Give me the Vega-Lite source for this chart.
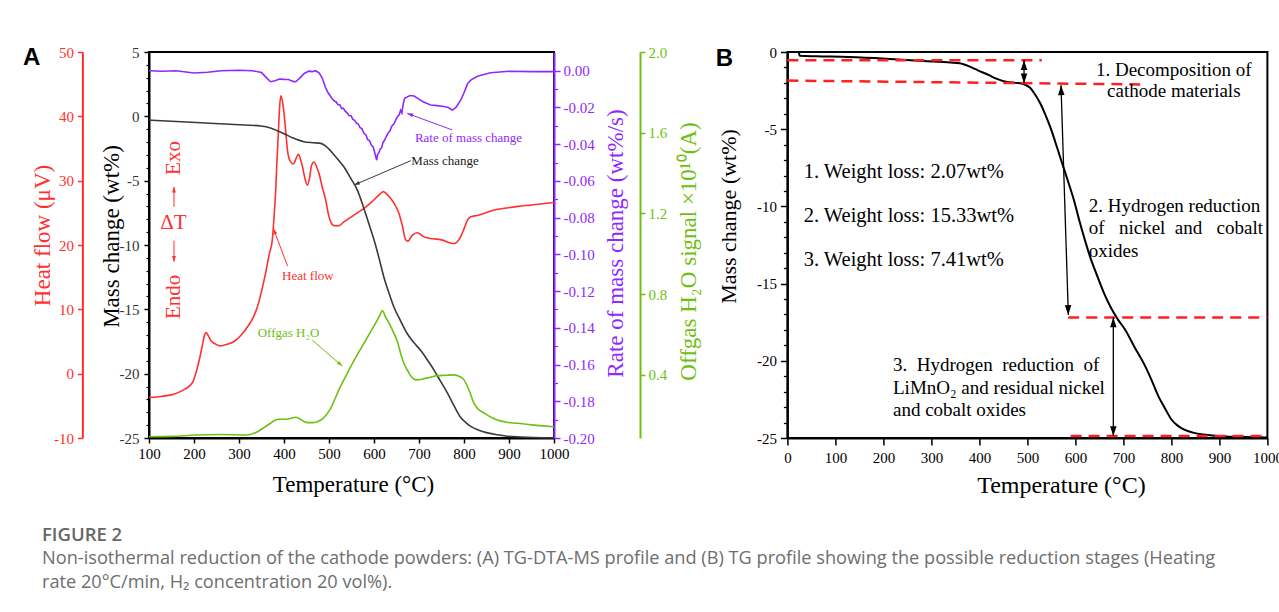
{
  "$schema": "https://vega.github.io/schema/vega-lite/v6.json",
  "background": "#ffffff",
  "padding": {"left": 22, "top": 44, "right": 0, "bottom": 0},
  "bounds": "flush",
  "spacing": 233.4,
  "config": {
    "locale": {"number": {"decimal": ".", "thousands": ",", "grouping": [3], "currency": ["$", ""], "minus": "-"}},
    "view": {"stroke": null},
    "axis": {"grid": false, "labelFont": "Liberation Serif", "titleFont": "Liberation Serif", "labelFontSize": 15, "titleFontSize": 23, "titleFontWeight": "normal", "labelFlush": false, "labelOverlap": false, "domainWidth": 2, "tickWidth": 1.5},
    "text": {"font": "Liberation Serif"}
  },
  "title": {
    "text": "FIGURE 2",
    "subtitle": ["Non-isothermal reduction of the cathode powders: (A) TG-DTA-MS profile and (B) TG profile showing the possible reduction stages (Heating", "rate 20°C/min, H₂ concentration 20 vol%)."],
    "orient": "bottom", "anchor": "start", "frame": "bounds",
    "font": "Open Sans", "fontSize": 18.5, "fontWeight": 600, "color": "#666666",
    "subtitleFont": "Open Sans", "subtitleFontSize": 18.2, "subtitleColor": "#6e6e6e", "subtitleLineHeight": 24, "subtitlePadding": 5, "subtitleFontWeight": "normal",
    "offset": 28, "dx": 20
  },
  "hconcat": [
    {
      "width": 405, "height": 386,
      "view": {"stroke": "#000000", "strokeWidth": 2},
      "title": {"text": "A", "anchor": "start", "frame": "group", "orient": "top", "font": "Liberation Sans", "fontSize": 24, "fontWeight": "bold", "color": "#000000", "baseline": "alphabetic", "dx": -126, "dy": 44, "offset": 0},
      "resolve": {"scale": {"y": "independent"}},
      "layer": [
        {
          "data": {"values": [{"T":100,"h":-3.7},{"T":130,"h":-3.5},{"T":155,"h":-3.2},{"T":175,"h":-2.6},{"T":190,"h":-1.9},{"T":198,"h":-1.2},{"T":205,"h":0.3},{"T":212,"h":2.2},{"T":218,"h":4.2},{"T":223,"h":5.9},{"T":227,"h":6.4},{"T":231,"h":6.0},{"T":237,"h":5.2},{"T":248,"h":4.6},{"T":259,"h":4.3},{"T":275,"h":4.6},{"T":289,"h":5.0},{"T":305,"h":6.0},{"T":322,"h":7.6},{"T":332,"h":8.8},{"T":341,"h":10.4},{"T":350,"h":12.8},{"T":359,"h":15.6},{"T":367,"h":18.5},{"T":374,"h":20.8},{"T":378,"h":24.5},{"T":381.6,"h":28.5},{"T":384,"h":32.5},{"T":386.7,"h":36.3},{"T":389.5,"h":40.5},{"T":392.7,"h":43.2},{"T":396,"h":42.5},{"T":400,"h":40.5},{"T":404,"h":37.5},{"T":407.6,"h":34.8},{"T":414,"h":33.0},{"T":421,"h":32.6},{"T":427,"h":33.5},{"T":432,"h":34.1},{"T":436,"h":33.5},{"T":441,"h":32.2},{"T":446,"h":30.5},{"T":452,"h":29.3},{"T":457,"h":30.5},{"T":461,"h":32.3},{"T":466.7,"h":32.9},{"T":472,"h":32.2},{"T":477.8,"h":31.1},{"T":485,"h":29.0},{"T":492.7,"h":27.0},{"T":498,"h":25.0},{"T":503.8,"h":23.6},{"T":512,"h":23.0},{"T":522,"h":23.0},{"T":533,"h":23.6},{"T":548,"h":24.3},{"T":563,"h":25.0},{"T":578,"h":25.7},{"T":595,"h":26.7},{"T":610,"h":27.7},{"T":620.9,"h":28.3},{"T":630,"h":27.8},{"T":644.4,"h":26.5},{"T":655.6,"h":24.9},{"T":663,"h":23.0},{"T":670.4,"h":20.8},{"T":675,"h":20.6},{"T":685,"h":21.5},{"T":696.4,"h":21.9},{"T":710,"h":21.3},{"T":726,"h":21.0},{"T":750,"h":20.8},{"T":770,"h":20.3},{"T":777.8,"h":20.2},{"T":785,"h":20.5},{"T":792.7,"h":21.3},{"T":800,"h":22.5},{"T":808,"h":23.9},{"T":815,"h":24.4},{"T":830,"h":24.6},{"T":844.4,"h":24.9},{"T":865,"h":25.4},{"T":889,"h":25.7},{"T":920,"h":26.0},{"T":948,"h":26.2},{"T":975,"h":26.4},{"T":1000,"h":26.6}]},
          "mark": {"type": "line", "color": "#ff3030", "strokeWidth": 1.6, "interpolate": "monotone"},
          "encoding": {
            "x": {"field": "T", "type": "quantitative", "scale": {"domain": [100, 1000], "nice": false, "zero": false},
                  "axis": {"orient": "bottom", "values": [100,200,300,400,500,600,700,800,900,1000], "format": "d", "title": "Temperature (°C)", "titleX": 204, "titleY": 46, "titleAngle": 0, "titleAlign": "center", "titleBaseline": "middle", "titleColor": "#000000", "labelColor": "#000000", "domainColor": "#000000", "tickColor": "#000000", "tickSize": 5, "labelPadding": 3}},
            "y": {"field": "h", "type": "quantitative", "scale": {"domain": [-10, 50], "nice": false, "zero": false},
                  "axis": {"orient": "left", "offset": 66.6, "values": [-10,0,10,20,30,40,50], "title": "Heat flow (μV)", "titleX": -40, "titleY": 183, "titleAngle": 270, "titleAlign": "center", "titleBaseline": "middle", "titleColor": "#ff3030", "labelColor": "#ff3030", "domainColor": "#ff3030", "tickColor": "#ff3030", "tickSize": 5, "labelPadding": 4}}
          }
        },
        {
          "data": {"values": [{"T": 500, "m": 0}]},
          "mark": {"type": "point", "opacity": 0},
          "encoding": {
            "x": {"field": "T", "type": "quantitative", "scale": {"domain": [100, 1000], "nice": false, "zero": false}},
            "y": {"field": "m", "type": "quantitative", "scale": {"domain": [-25, 5], "nice": false, "zero": false},
                  "axis": {"orient": "left", "values": [-24,-23,-22,-21,-19,-18,-17,-16,-14,-13,-12,-11,-9,-8,-7,-6,-4,-3,-2,-1,1,2,3,4], "labels": false, "domain": false, "title": null, "tickSize": 3, "tickColor": "#000000", "tickWidth": 1.2}}
          }
        },
        {
          "data": {"values": [{"T":100,"m":-0.29},{"T":150,"m":-0.38},{"T":215,"m":-0.5},{"T":280,"m":-0.62},{"T":348,"m":-0.75},{"T":370,"m":-0.9},{"T":385,"m":-1.12},{"T":400,"m":-1.35},{"T":422,"m":-1.71},{"T":444,"m":-1.97},{"T":465,"m":-2.05},{"T":481.6,"m":-2.1},{"T":492,"m":-2.3},{"T":500,"m":-2.55},{"T":510,"m":-2.95},{"T":520,"m":-3.35},{"T":533,"m":-3.92},{"T":548,"m":-4.8},{"T":563,"m":-5.73},{"T":578,"m":-7.2},{"T":592.7,"m":-8.8},{"T":600,"m":-9.6},{"T":611,"m":-11.0},{"T":622,"m":-12.5},{"T":633,"m":-13.7},{"T":644,"m":-14.8},{"T":659,"m":-15.9},{"T":674,"m":-16.9},{"T":689,"m":-17.6},{"T":704,"m":-18.2},{"T":718,"m":-18.9},{"T":733,"m":-19.7},{"T":748,"m":-20.6},{"T":763,"m":-21.5},{"T":778,"m":-22.5},{"T":792.7,"m":-23.4},{"T":804,"m":-23.8},{"T":815,"m":-24.1},{"T":833,"m":-24.4},{"T":852,"m":-24.6},{"T":874,"m":-24.75},{"T":896,"m":-24.86},{"T":925,"m":-24.92},{"T":955,"m":-24.96},{"T":1000,"m":-24.98}]},
          "mark": {"type": "line", "color": "#3a3a3a", "strokeWidth": 1.6, "interpolate": "monotone"},
          "encoding": {
            "x": {"field": "T", "type": "quantitative", "scale": {"domain": [100, 1000], "nice": false, "zero": false}},
            "y": {"field": "m", "type": "quantitative", "scale": {"domain": [-25, 5], "nice": false, "zero": false},
                  "axis": {"orient": "left", "offset": 0, "values": [-25,-20,-15,-10,-5,0,5], "title": "Mass change (wt%)", "titleX": -38, "titleY": 184, "titleAngle": 270, "titleAlign": "center", "titleBaseline": "middle", "titleColor": "#000000", "labelColor": "#333333", "domainColor": "#000000", "tickColor": "#000000", "tickSize": 5, "labelPadding": 5}}
          }
        },
        {
          "data": {"values": [{"T":681.6,"m":-3.45,"T2":555.6,"m2":-5.34}]},
          "mark": {"type": "rule", "color": "#3a3a3a", "strokeWidth": 1},
          "encoding": {"x": {"field": "T", "type": "quantitative", "scale": {"domain": [100, 1000], "nice": false, "zero": false}}, "y": {"field": "m", "type": "quantitative", "scale": {"domain": [-25, 5], "nice": false, "zero": false}, "axis": null}, "x2": {"field": "T2"}, "y2": {"field": "m2"}}
        },
        {
          "data": {"values": [{"T":774,"m":-1.06,"T2":674,"m2":0.23}]},
          "mark": {"type": "rule", "color": "#8f28ff", "strokeWidth": 1},
          "encoding": {"x": {"field": "T", "type": "quantitative", "scale": {"domain": [100, 1000], "nice": false, "zero": false}}, "y": {"field": "m", "type": "quantitative", "scale": {"domain": [-25, 5], "nice": false, "zero": false}, "axis": null}, "x2": {"field": "T2"}, "y2": {"field": "m2"}}
        },
        {
          "data": {"values": [{"T":408,"m":-11.64,"T2":376.4,"m2":-8.72},{"T":155.5,"m":-7.03,"T2":155.5,"m2":-5.47},{"T":155.5,"m":-9.66,"T2":155.5,"m2":-11.31}]},
          "mark": {"type": "rule", "color": "#ff3030", "strokeWidth": 1},
          "encoding": {"x": {"field": "T", "type": "quantitative", "scale": {"domain": [100, 1000], "nice": false, "zero": false}}, "y": {"field": "m", "type": "quantitative", "scale": {"domain": [-25, 5], "nice": false, "zero": false}, "axis": null}, "x2": {"field": "T2"}, "y2": {"field": "m2"}}
        },
        {
          "data": {"values": [{"T":463,"m":-17.4,"T2":529.8,"m2":-19.42}]},
          "mark": {"type": "rule", "color": "#6fbf12", "strokeWidth": 1},
          "encoding": {"x": {"field": "T", "type": "quantitative", "scale": {"domain": [100, 1000], "nice": false, "zero": false}}, "y": {"field": "m", "type": "quantitative", "scale": {"domain": [-25, 5], "nice": false, "zero": false}, "axis": null}, "x2": {"field": "T2"}, "y2": {"field": "m2"}}
        },
        {
          "data": {"values": [{"T":555.6,"m":-5.34}]},
          "mark": {"type": "point", "shape": "M0,0L0.5,1.5L-0.5,1.5Z", "filled": true, "opacity": 1, "size": 60, "angle": 246.8, "color": "#3a3a3a", "strokeWidth": 0},
          "encoding": {"x": {"field": "T", "type": "quantitative", "scale": {"domain": [100, 1000], "nice": false, "zero": false}}, "y": {"field": "m", "type": "quantitative", "scale": {"domain": [-25, 5], "nice": false, "zero": false}, "axis": null}}
        },
        {
          "data": {"values": [{"T":674,"m":0.23}]},
          "mark": {"type": "point", "shape": "M0,0L0.5,1.5L-0.5,1.5Z", "filled": true, "opacity": 1, "size": 60, "angle": 290.4, "color": "#8f28ff", "strokeWidth": 0},
          "encoding": {"x": {"field": "T", "type": "quantitative", "scale": {"domain": [100, 1000], "nice": false, "zero": false}}, "y": {"field": "m", "type": "quantitative", "scale": {"domain": [-25, 5], "nice": false, "zero": false}, "axis": null}}
        },
        {
          "data": {"values": [{"T":376.4,"m":-8.72}]},
          "mark": {"type": "point", "shape": "M0,0L0.5,1.5L-0.5,1.5Z", "filled": true, "opacity": 1, "size": 60, "angle": 339.5, "color": "#ff3030", "strokeWidth": 0},
          "encoding": {"x": {"field": "T", "type": "quantitative", "scale": {"domain": [100, 1000], "nice": false, "zero": false}}, "y": {"field": "m", "type": "quantitative", "scale": {"domain": [-25, 5], "nice": false, "zero": false}, "axis": null}}
        },
        {
          "data": {"values": [{"T":155.5,"m":-5.47}]},
          "mark": {"type": "point", "shape": "M0,0L0.5,1.5L-0.5,1.5Z", "filled": true, "opacity": 1, "size": 60, "angle": 0, "color": "#ff3030", "strokeWidth": 0},
          "encoding": {"x": {"field": "T", "type": "quantitative", "scale": {"domain": [100, 1000], "nice": false, "zero": false}}, "y": {"field": "m", "type": "quantitative", "scale": {"domain": [-25, 5], "nice": false, "zero": false}, "axis": null}}
        },
        {
          "data": {"values": [{"T":155.5,"m":-11.31}]},
          "mark": {"type": "point", "shape": "M0,0L0.5,1.5L-0.5,1.5Z", "filled": true, "opacity": 1, "size": 60, "angle": 180, "color": "#ff3030", "strokeWidth": 0},
          "encoding": {"x": {"field": "T", "type": "quantitative", "scale": {"domain": [100, 1000], "nice": false, "zero": false}}, "y": {"field": "m", "type": "quantitative", "scale": {"domain": [-25, 5], "nice": false, "zero": false}, "axis": null}}
        },
        {
          "data": {"values": [{"T":529.8,"m":-19.42}]},
          "mark": {"type": "point", "shape": "M0,0L0.5,1.5L-0.5,1.5Z", "filled": true, "opacity": 1, "size": 60, "angle": 130.9, "color": "#6fbf12", "strokeWidth": 0},
          "encoding": {"x": {"field": "T", "type": "quantitative", "scale": {"domain": [100, 1000], "nice": false, "zero": false}}, "y": {"field": "m", "type": "quantitative", "scale": {"domain": [-25, 5], "nice": false, "zero": false}, "axis": null}}
        },
        {
          "data": {"values": [{"T":810,"m":-1.71,"label":"Rate of mass change"}]},
          "mark": {"type": "text", "color": "#8f28ff", "fontSize": 13, "align": "center", "baseline": "middle", "font": "Liberation Serif"},
          "encoding": {"x": {"field": "T", "type": "quantitative", "scale": {"domain": [100, 1000], "nice": false, "zero": false}}, "y": {"field": "m", "type": "quantitative", "scale": {"domain": [-25, 5], "nice": false, "zero": false}, "axis": null}, "text": {"field": "label"}}
        },
        {
          "data": {"values": [{"T":683,"m":-3.45,"label":"Mass change"}]},
          "mark": {"type": "text", "color": "#1a1a1a", "fontSize": 13, "align": "left", "baseline": "middle", "font": "Liberation Serif"},
          "encoding": {"x": {"field": "T", "type": "quantitative", "scale": {"domain": [100, 1000], "nice": false, "zero": false}}, "y": {"field": "m", "type": "quantitative", "scale": {"domain": [-25, 5], "nice": false, "zero": false}, "axis": null}, "text": {"field": "label"}}
        },
        {
          "data": {"values": [{"T":453,"m":-12.4,"label":"Heat flow"}]},
          "mark": {"type": "text", "color": "#ff3030", "fontSize": 13, "align": "center", "baseline": "middle", "font": "Liberation Serif"},
          "encoding": {"x": {"field": "T", "type": "quantitative", "scale": {"domain": [100, 1000], "nice": false, "zero": false}}, "y": {"field": "m", "type": "quantitative", "scale": {"domain": [-25, 5], "nice": false, "zero": false}, "axis": null}, "text": {"field": "label"}}
        },
        {
          "data": {"values": [{"T":410,"m":-16.87,"label":"Offgas H₂O"}]},
          "mark": {"type": "text", "color": "#6fbf12", "fontSize": 13, "align": "center", "baseline": "middle", "font": "Liberation Serif"},
          "encoding": {"x": {"field": "T", "type": "quantitative", "scale": {"domain": [100, 1000], "nice": false, "zero": false}}, "y": {"field": "m", "type": "quantitative", "scale": {"domain": [-25, 5], "nice": false, "zero": false}, "axis": null}, "text": {"field": "label"}}
        },
        {
          "data": {"values": [{"T":155.5,"m":-3.24,"label":"Exo"},{"T":156.5,"m":-14.03,"label":"Endo"}]},
          "mark": {"type": "text", "color": "#ff3030", "fontSize": 21, "align": "center", "baseline": "middle", "angle": 270, "font": "Liberation Serif"},
          "encoding": {"x": {"field": "T", "type": "quantitative", "scale": {"domain": [100, 1000], "nice": false, "zero": false}}, "y": {"field": "m", "type": "quantitative", "scale": {"domain": [-25, 5], "nice": false, "zero": false}, "axis": null}, "text": {"field": "label"}}
        },
        {
          "data": {"values": [{"T":154.2,"m":-8.31,"label":"ΔT"}]},
          "mark": {"type": "text", "color": "#ff3030", "fontSize": 21, "align": "center", "baseline": "middle", "font": "Liberation Serif"},
          "encoding": {"x": {"field": "T", "type": "quantitative", "scale": {"domain": [100, 1000], "nice": false, "zero": false}}, "y": {"field": "m", "type": "quantitative", "scale": {"domain": [-25, 5], "nice": false, "zero": false}, "axis": null}, "text": {"field": "label"}}
        },
        {
          "data": {"values": [{"T": 500, "r": 0}]},
          "mark": {"type": "point", "opacity": 0},
          "encoding": {
            "x": {"field": "T", "type": "quantitative", "scale": {"domain": [100, 1000], "nice": false, "zero": false}},
            "y": {"field": "r", "type": "quantitative", "scale": {"domain": [-0.2, 0.0102], "nice": false, "zero": false},
                  "axis": {"orient": "right", "values": [-0.19,-0.17,-0.15,-0.13,-0.11,-0.09,-0.07,-0.05,-0.03,-0.01], "labels": false, "domain": false, "title": null, "tickSize": 3.5, "tickColor": "#8f28ff", "tickWidth": 1.2}}
          }
        },
        {
          "data": {"values": [{"T":100,"r":0.0},{"T":130,"r":-0.0003},{"T":160,"r":0.0},{"T":200,"r":-0.0012},{"T":230,"r":-0.0008},{"T":260,"r":0.0},{"T":300,"r":0.0003},{"T":330,"r":0.0},{"T":350,"r":-0.001},{"T":362,"r":-0.004},{"T":370,"r":-0.006},{"T":380,"r":-0.0055},{"T":390,"r":-0.0045},{"T":400,"r":-0.0047},{"T":410,"r":-0.0048},{"T":420,"r":-0.0058},{"T":426,"r":-0.006},{"T":435,"r":-0.004},{"T":445,"r":-0.0015},{"T":455,"r":-0.0002},{"T":463,"r":-0.0005},{"T":470,"r":0.0},{"T":478,"r":-0.0012},{"T":485,"r":-0.004},{"T":492,"r":-0.009},{"T":498,"r":-0.012},{"T":504,"r":-0.0142},{"T":508,"r":-0.0155},{"T":512,"r":-0.0165},{"T":516,"r":-0.017},{"T":520,"r":-0.0185},{"T":524,"r":-0.0185},{"T":528,"r":-0.0205},{"T":532,"r":-0.0205},{"T":536,"r":-0.022},{"T":541,"r":-0.0232},{"T":545,"r":-0.0245},{"T":549,"r":-0.0245},{"T":553,"r":-0.0265},{"T":557,"r":-0.027},{"T":561,"r":-0.0285},{"T":565,"r":-0.029},{"T":569,"r":-0.031},{"T":573,"r":-0.0315},{"T":578,"r":-0.0342},{"T":582,"r":-0.035},{"T":586,"r":-0.0375},{"T":590,"r":-0.038},{"T":594,"r":-0.0405},{"T":598,"r":-0.0415},{"T":601,"r":-0.044},{"T":604,"r":-0.047},{"T":606,"r":-0.0487},{"T":608,"r":-0.0455},{"T":611,"r":-0.0445},{"T":614,"r":-0.0425},{"T":617,"r":-0.042},{"T":620,"r":-0.039},{"T":623,"r":-0.038},{"T":627,"r":-0.036},{"T":631,"r":-0.034},{"T":635,"r":-0.033},{"T":640,"r":-0.030},{"T":644,"r":-0.029},{"T":648,"r":-0.027},{"T":652,"r":-0.0251},{"T":656,"r":-0.024},{"T":659,"r":-0.0215},{"T":662,"r":-0.023},{"T":665,"r":-0.018},{"T":668,"r":-0.015},{"T":672,"r":-0.0145},{"T":680,"r":-0.0135},{"T":689,"r":-0.0138},{"T":700,"r":-0.0155},{"T":710,"r":-0.017},{"T":726,"r":-0.0187},{"T":740,"r":-0.019},{"T":755,"r":-0.0195},{"T":765,"r":-0.02},{"T":774,"r":-0.0214},{"T":782,"r":-0.02},{"T":792.7,"r":-0.016},{"T":800,"r":-0.012},{"T":808,"r":-0.007},{"T":815,"r":-0.0051},{"T":830,"r":-0.003},{"T":859,"r":-0.0011},{"T":900,"r":-0.0003},{"T":950,"r":-0.0005},{"T":1000,"r":-0.0005}]},
          "mark": {"type": "line", "color": "#8f28ff", "strokeWidth": 1.6},
          "encoding": {
            "x": {"field": "T", "type": "quantitative", "scale": {"domain": [100, 1000], "nice": false, "zero": false}},
            "y": {"field": "r", "type": "quantitative", "scale": {"domain": [-0.2, 0.0102], "nice": false, "zero": false},
                  "axis": {"orient": "right", "offset": 0, "values": [-0.2,-0.18,-0.16,-0.14,-0.12,-0.1,-0.08,-0.06,-0.04,-0.02,0], "format": ".2f", "title": "Rate of mass change (wt%/s)", "titleX": 61, "titleY": 191, "titleAngle": 270, "titleAlign": "center", "titleBaseline": "middle", "titleColor": "#8f28ff", "labelColor": "#8f28ff", "domainColor": "#8f28ff", "tickColor": "#8f28ff", "tickSize": 6, "labelPadding": 3}}
          }
        },
        {
          "data": {"values": [{"T":100,"g":0.093},{"T":150,"g":0.095},{"T":207,"g":0.102},{"T":260,"g":0.104},{"T":319,"g":0.102},{"T":341,"g":0.118},{"T":355,"g":0.138},{"T":370,"g":0.16},{"T":380,"g":0.175},{"T":389,"g":0.18},{"T":405,"g":0.18},{"T":418,"g":0.186},{"T":426,"g":0.19},{"T":435,"g":0.182},{"T":445,"g":0.168},{"T":452,"g":0.163},{"T":463,"g":0.163},{"T":474,"g":0.168},{"T":485,"g":0.18},{"T":495,"g":0.205},{"T":503.8,"g":0.234},{"T":515,"g":0.29},{"T":525,"g":0.34},{"T":533,"g":0.375},{"T":548,"g":0.44},{"T":563,"g":0.5},{"T":578,"g":0.557},{"T":593,"g":0.615},{"T":607.5,"g":0.673},{"T":614,"g":0.7},{"T":618.5,"g":0.719},{"T":625,"g":0.69},{"T":635,"g":0.65},{"T":644,"g":0.607},{"T":652,"g":0.565},{"T":660,"g":0.5},{"T":667,"g":0.455},{"T":674,"g":0.424},{"T":683,"g":0.39},{"T":692.7,"g":0.375},{"T":710,"g":0.38},{"T":725,"g":0.388},{"T":740.7,"g":0.396},{"T":760,"g":0.398},{"T":778,"g":0.4},{"T":790,"g":0.392},{"T":800,"g":0.375},{"T":812,"g":0.32},{"T":822,"g":0.26},{"T":829.7,"g":0.234},{"T":845,"g":0.21},{"T":860,"g":0.19},{"T":874,"g":0.176},{"T":895,"g":0.165},{"T":918.7,"g":0.16},{"T":950,"g":0.152},{"T":975,"g":0.147},{"T":1000,"g":0.143}]},
          "mark": {"type": "line", "color": "#6fbf12", "strokeWidth": 1.6, "interpolate": "monotone"},
          "encoding": {
            "x": {"field": "T", "type": "quantitative", "scale": {"domain": [100, 1000], "nice": false, "zero": false}},
            "y": {"field": "g", "type": "quantitative", "scale": {"domain": [0.087, 2.0], "nice": false, "zero": false},
                  "axis": {"orient": "right", "offset": 86, "values": [0.4,0.8,1.2,1.6,2.0], "format": ".1f", "title": "Offgas H₂O signal ×10¹⁰(A)", "titleX": 48, "titleY": 199, "titleAngle": 270, "titleAlign": "center", "titleBaseline": "middle", "titleColor": "#6fbf12", "labelColor": "#6fbf12", "domainColor": "#6fbf12", "tickColor": "#6fbf12", "tickSize": 5, "labelPadding": 3}}
          }
        }
      ]
    },
    {
      "width": 480, "height": 386,
      "view": {"stroke": "#000000", "strokeWidth": 2},
      "title": {"text": "B", "anchor": "start", "frame": "group", "orient": "top", "font": "Liberation Sans", "fontSize": 24, "fontWeight": "bold", "color": "#000000", "baseline": "alphabetic", "dx": -71.7, "dy": 45, "offset": 0},
      "resolve": {"scale": {"y": "independent"}},
      "layer": [
        {
          "data": {"values": [{"T":24,"m":-0.05},{"T":26,"m":-0.25},{"T":60,"m":-0.28},{"T":128,"m":-0.32},{"T":205,"m":-0.43},{"T":282,"m":-0.58},{"T":340,"m":-0.68},{"T":359,"m":-0.73},{"T":380,"m":-0.95},{"T":397,"m":-1.19},{"T":420,"m":-1.5},{"T":435,"m":-1.72},{"T":458,"m":-1.94},{"T":475,"m":-2.0},{"T":489,"m":-2.05},{"T":497,"m":-2.15},{"T":505,"m":-2.3},{"T":515,"m":-2.7},{"T":527,"m":-3.34},{"T":538,"m":-4.1},{"T":550,"m":-5.06},{"T":563,"m":-6.3},{"T":577,"m":-7.65},{"T":587,"m":-8.6},{"T":597,"m":-9.6},{"T":608,"m":-10.9},{"T":620,"m":-12.2},{"T":631,"m":-13.3},{"T":643,"m":-14.3},{"T":658,"m":-15.5},{"T":673,"m":-16.5},{"T":688,"m":-17.3},{"T":704,"m":-18.0},{"T":723,"m":-19.1},{"T":743,"m":-20.2},{"T":758,"m":-21.2},{"T":773,"m":-22.3},{"T":787,"m":-23.1},{"T":800,"m":-23.8},{"T":813,"m":-24.2},{"T":827,"m":-24.46},{"T":845,"m":-24.65},{"T":866,"m":-24.78},{"T":890,"m":-24.86},{"T":912,"m":-24.9},{"T":950,"m":-24.94},{"T":1000,"m":-24.96}]},
          "mark": {"type": "line", "color": "#000000", "strokeWidth": 2, "interpolate": "monotone"},
          "encoding": {
            "x": {"field": "T", "type": "quantitative", "scale": {"domain": [0, 1000], "nice": false, "zero": false},
                  "axis": {"orient": "bottom", "values": [0,100,200,300,400,500,600,700,800,900,1000], "format": "d", "title": "Temperature (°C)", "titleX": 273.5, "titleY": 47, "titleAngle": 0, "titleAlign": "center", "titleBaseline": "middle", "titleColor": "#000000", "titleFontSize": 24, "labelColor": "#000000", "domainColor": "#000000", "tickColor": "#000000", "tickSize": 7, "labelPadding": 5}},
            "y": {"field": "m", "type": "quantitative", "scale": {"domain": [-25, 0], "nice": false, "zero": false},
                  "axis": {"orient": "left", "values": [-25,-20,-15,-10,-5,0], "title": "Mass change (wt%)", "titleX": -58.7, "titleY": 164, "titleAngle": 270, "titleAlign": "center", "titleBaseline": "middle", "titleColor": "#000000", "titleFontSize": 22, "labelColor": "#000000", "domainColor": "#000000", "tickColor": "#000000", "tickSize": 7, "labelPadding": 4}}
          }
        },
        {
          "data": {"values": [{"T": 500, "m": 0}]},
          "mark": {"type": "point", "opacity": 0},
          "encoding": {
            "x": {"field": "T", "type": "quantitative", "scale": {"domain": [0, 1000], "nice": false, "zero": false}},
            "y": {"field": "m", "type": "quantitative", "scale": {"domain": [-25, 0], "nice": false, "zero": false},
                  "axis": {"orient": "left", "values": [-24,-23,-22,-21,-19,-18,-17,-16,-14,-13,-12,-11,-9,-8,-7,-6,-4,-3,-2,-1], "labels": false, "domain": false, "title": null, "tickSize": 4, "tickColor": "#000000", "tickWidth": 1.3}}
          }
        },
        {
          "data": {"values": [{"T":0,"m":-0.53,"T2":530,"m2":-0.53},{"T":0,"m":-1.85,"T2":735,"m2":-2.1},{"T":585,"m":-17.2,"T2":1000,"m2":-17.2},{"T":590,"m":-24.87,"T2":1000,"m2":-24.87}]},
          "mark": {"type": "rule", "color": "#ff2020", "strokeWidth": 2.5, "strokeDash": [11, 7]},
          "encoding": {"x": {"field": "T", "type": "quantitative", "scale": {"domain": [0, 1000], "nice": false, "zero": false}}, "y": {"field": "m", "type": "quantitative", "scale": {"domain": [-25, 0], "nice": false, "zero": false}, "axis": null}, "x2": {"field": "T2"}, "y2": {"field": "m2"}}
        },
        {
          "data": {"values": [{"T":493,"m":-0.54,"T2":493,"m2":-2.02},{"T":570,"m":-2.16,"T2":585.3,"m2":-17.03},{"T":679,"m":-17.2,"T2":679,"m2":-24.87}]},
          "mark": {"type": "rule", "color": "#000000", "strokeWidth": 1.3},
          "encoding": {"x": {"field": "T", "type": "quantitative", "scale": {"domain": [0, 1000], "nice": false, "zero": false}}, "y": {"field": "m", "type": "quantitative", "scale": {"domain": [-25, 0], "nice": false, "zero": false}, "axis": null}, "x2": {"field": "T2"}, "y2": {"field": "m2"}}
        },
        {
          "data": {"values": [{"T":493,"m":-0.54},{"T":679,"m":-17.2}]},
          "mark": {"type": "point", "shape": "M0,0L0.5,1.5L-0.5,1.5Z", "filled": true, "opacity": 1, "size": 170, "angle": 0, "color": "#000000", "strokeWidth": 0},
          "encoding": {"x": {"field": "T", "type": "quantitative", "scale": {"domain": [0, 1000], "nice": false, "zero": false}}, "y": {"field": "m", "type": "quantitative", "scale": {"domain": [-25, 0], "nice": false, "zero": false}, "axis": null}}
        },
        {
          "data": {"values": [{"T":493,"m":-2.02},{"T":679,"m":-24.87}]},
          "mark": {"type": "point", "shape": "M0,0L0.5,1.5L-0.5,1.5Z", "filled": true, "opacity": 1, "size": 170, "angle": 180, "color": "#000000", "strokeWidth": 0},
          "encoding": {"x": {"field": "T", "type": "quantitative", "scale": {"domain": [0, 1000], "nice": false, "zero": false}}, "y": {"field": "m", "type": "quantitative", "scale": {"domain": [-25, 0], "nice": false, "zero": false}, "axis": null}}
        },
        {
          "data": {"values": [{"T":570,"m":-2.16}]},
          "mark": {"type": "point", "shape": "M0,0L0.5,1.5L-0.5,1.5Z", "filled": true, "opacity": 1, "size": 170, "angle": 358.2, "color": "#000000", "strokeWidth": 0},
          "encoding": {"x": {"field": "T", "type": "quantitative", "scale": {"domain": [0, 1000], "nice": false, "zero": false}}, "y": {"field": "m", "type": "quantitative", "scale": {"domain": [-25, 0], "nice": false, "zero": false}, "axis": null}}
        },
        {
          "data": {"values": [{"T":585.3,"m":-17.03}]},
          "mark": {"type": "point", "shape": "M0,0L0.5,1.5L-0.5,1.5Z", "filled": true, "opacity": 1, "size": 170, "angle": 178.2, "color": "#000000", "strokeWidth": 0},
          "encoding": {"x": {"field": "T", "type": "quantitative", "scale": {"domain": [0, 1000], "nice": false, "zero": false}}, "y": {"field": "m", "type": "quantitative", "scale": {"domain": [-25, 0], "nice": false, "zero": false}, "axis": null}}
        },
        {
          "data": {"values": [{"T":34,"m":-7.8,"label":"1. Weight loss: 2.07wt%"},{"T":34,"m":-10.6,"label":"2. Weight loss: 15.33wt%"},{"T":34,"m":-13.47,"label":"3. Weight loss: 7.41wt%"}]},
          "mark": {"type": "text", "color": "#000000", "fontSize": 20.5, "align": "left", "baseline": "middle", "font": "Liberation Serif"},
          "encoding": {"x": {"field": "T", "type": "quantitative", "scale": {"domain": [0, 1000], "nice": false, "zero": false}}, "y": {"field": "m", "type": "quantitative", "scale": {"domain": [-25, 0], "nice": false, "zero": false}, "axis": null}, "text": {"field": "label"}}
        },
        {
          "data": {"values": [{"T":628,"m":-9.96,"label":"2. Hydrogen reduction"},{"T":628,"m":-11.42,"label":"of\u00a0\u00a0\u00a0nickel\u00a0\u00a0and\u00a0\u00a0\u00a0cobalt"},{"T":628,"m":-12.89,"label":"oxides"},{"T":220,"m":-20.26,"label":"3.\u00a0\u00a0Hydrogen\u00a0\u00a0reduction\u00a0\u00a0of"},{"T":220,"m":-21.77,"label":"LiMnO₂ and residual nickel"},{"T":220,"m":-23.17,"label":"and cobalt oxides"}]},
          "mark": {"type": "text", "color": "#000000", "fontSize": 19, "align": "left", "baseline": "middle", "font": "Liberation Serif"},
          "encoding": {"x": {"field": "T", "type": "quantitative", "scale": {"domain": [0, 1000], "nice": false, "zero": false}}, "y": {"field": "m", "type": "quantitative", "scale": {"domain": [-25, 0], "nice": false, "zero": false}, "axis": null}, "text": {"field": "label"}}
        },
        {
          "data": {"values": [{"T":805,"m":-1.14,"label":"1. Decomposition of"},{"T":805,"m":-2.5,"label":"cathode materials"}]},
          "mark": {"type": "text", "color": "#000000", "fontSize": 19, "align": "center", "baseline": "middle", "font": "Liberation Serif"},
          "encoding": {"x": {"field": "T", "type": "quantitative", "scale": {"domain": [0, 1000], "nice": false, "zero": false}}, "y": {"field": "m", "type": "quantitative", "scale": {"domain": [-25, 0], "nice": false, "zero": false}, "axis": null}, "text": {"field": "label"}}
        }
      ]
    }
  ]
}
